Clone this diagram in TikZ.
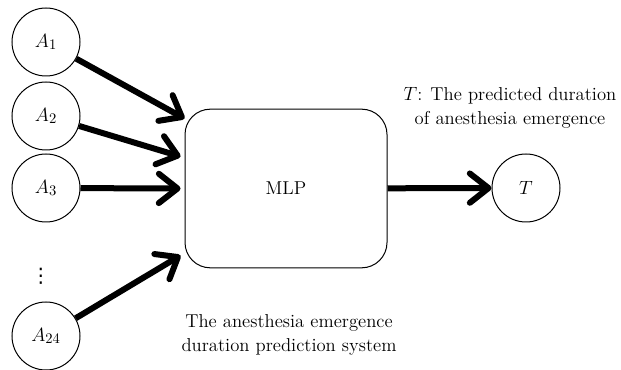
\documentclass[tikz,border=0pt]{standalone}
\usepackage{amsmath}
\usepackage{fontspec}
\usepackage{tikz}
\usetikzlibrary{arrows.meta}
\usetikzlibrary{calc}
\newfontfamily\dotsfont{DejaVu Sans}
\tikzset{every picture/.style={line width=0.75pt}}
\tikzset{
  inp/.style={draw, circle, minimum size=51pt, inner sep=0pt, font=\fontsize{15}{17}\selectfont},
  bigarr/.style={line width=4.5pt, -{Straight Barb[length=14pt, width=22pt, line width=4.5pt, round]}},
  lbl/.style={align=center, inner sep=0.75pt, font=\fontsize{14}{18}\selectfont}
}

\begin{document}
\begin{tikzpicture}[x=0.75pt,y=0.75pt,yscale=-1,xscale=1]
\useasboundingbox (0,0) rectangle (621,370);

% Input nodes
\node [inp] (a1) at (46,42) {$A_{1}$};
\node [inp] (a2) at (46,116) {$A_{2}$};
\node [inp] (a3) at (46,188) {$A_{3}$};
\node [inner sep=0pt, font=\dotsfont\fontsize{15}{17}\selectfont] (dots) at (41,276) {⋮};
\node [inp] (a24) at (46,336) {$A_{24}$};

% MLP box
\node [draw, rectangle, rounded corners=19pt, minimum width=151.5pt, minimum height=119pt, font=\fontsize{14}{16}\selectfont] (mlp) at (286,188.5) {MLP};

% Output node
\node [inp] (t) at (526,188) {$T$};

% Arrows
\draw [bigarr] (a1) -- ($(mlp.west)+(0,-70)$);
\draw [bigarr] (a2) -- ($(mlp.west)+(-4,-32)$);
\draw [bigarr] (a3) -- ($(mlp.west)+(-4,0)$);
\draw [bigarr] (a24) -- ($(mlp.west)+(-4,67)$);
\draw [bigarr] (mlp) -- (t);

% Text Node
\node [lbl] (tlabel) at (510,108) {$T$: The predicted duration\\of anesthesia emergence};
% Text Node
\node [lbl] (syslabel) at (289,335) {The anesthesia emergence\\duration prediction system};

\end{tikzpicture}
\end{document}
